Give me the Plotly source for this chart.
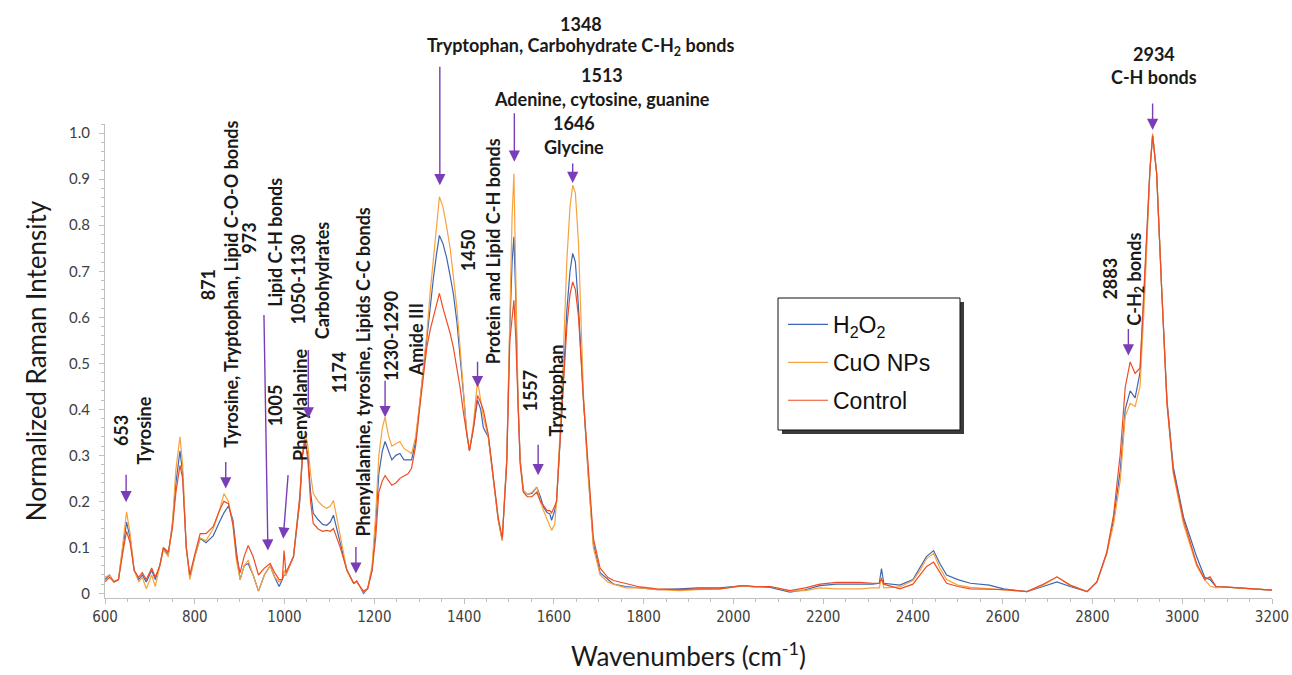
import plotly.graph_objects as go

# ---------------- data ----------------
wavenumber = [600, 610, 620, 630, 640, 648, 656, 665, 675, 683, 692, 704, 712, 722, 730, 741, 750, 758, 767, 773,
              781, 789, 800, 812, 825, 841, 855, 865, 875, 885, 893, 901, 910, 919, 930, 942, 955, 968, 978, 988,
              995, 999, 1003, 1020, 1034, 1040, 1046, 1052, 1058, 1064, 1075, 1085, 1094, 1102, 1109, 1117, 1124,
              1139, 1154, 1161, 1168, 1176, 1185, 1195, 1203, 1210, 1218, 1224, 1231, 1239, 1248, 1257, 1266, 1275,
              1283, 1292, 1302, 1310, 1317, 1325, 1332, 1339, 1345, 1353, 1361, 1369, 1376, 1384, 1391, 1399, 1406,
              1412, 1421, 1430, 1437, 1443, 1454, 1465, 1476, 1485, 1495, 1502, 1507, 1511, 1515, 1520, 1525, 1532,
              1541, 1551, 1562, 1570, 1577, 1585, 1591, 1595, 1602, 1606, 1618, 1629, 1636, 1642, 1648, 1655, 1666,
              1677, 1688, 1703, 1720, 1733, 1760, 1792, 1830, 1880, 1920, 1970, 2022, 2050, 2082, 2126, 2160, 2193,
              2230, 2282, 2310, 2325, 2330, 2335, 2371, 2400, 2416, 2430, 2446, 2460, 2475, 2500, 2528, 2570, 2602,
              2654, 2690, 2721, 2750, 2788, 2810, 2832, 2847, 2862, 2873, 2884, 2895, 2906, 2917, 2928, 2934, 2943,
              2954, 2966, 2980, 3003, 3032, 3050, 3062, 3075, 3091, 3150, 3200]

h2o2 = [0.030, 0.040, 0.025, 0.030, 0.100, 0.155, 0.120, 0.050, 0.030, 0.040, 0.025, 0.050, 0.030, 0.060, 0.098,
        0.085, 0.150, 0.240, 0.310, 0.260, 0.100, 0.035, 0.080, 0.120, 0.110, 0.125, 0.155, 0.175, 0.190, 0.160,
        0.090, 0.030, 0.060, 0.065, 0.040, 0.005, 0.040, 0.060, 0.035, 0.015, 0.030, 0.040, 0.040, 0.080, 0.200,
        0.300, 0.330, 0.300, 0.220, 0.174, 0.160, 0.150, 0.148, 0.155, 0.170, 0.140, 0.110, 0.050, 0.022, 0.025,
        0.015, 0.000, 0.010, 0.050, 0.150, 0.260, 0.310, 0.330, 0.310, 0.290, 0.300, 0.304, 0.290, 0.290, 0.290,
        0.330, 0.420, 0.500, 0.555, 0.630, 0.688, 0.740, 0.778, 0.760, 0.730, 0.690, 0.652, 0.590, 0.520, 0.430,
        0.347, 0.310, 0.360, 0.420, 0.400, 0.360, 0.340, 0.245, 0.160, 0.115, 0.290, 0.580, 0.720, 0.775, 0.650,
        0.420, 0.290, 0.224, 0.215, 0.217, 0.231, 0.210, 0.188, 0.175, 0.173, 0.159, 0.180, 0.200, 0.400, 0.615,
        0.700, 0.739, 0.720, 0.620, 0.420, 0.253, 0.108, 0.045, 0.030, 0.020, 0.015, 0.012, 0.008, 0.010, 0.012,
        0.012, 0.017, 0.014, 0.013, 0.003, 0.008, 0.017, 0.020, 0.020, 0.020, 0.022, 0.054, 0.022, 0.018, 0.030,
        0.057, 0.080, 0.093, 0.065, 0.040, 0.030, 0.022, 0.018, 0.010, 0.004, 0.015, 0.025, 0.015, 0.004, 0.025,
        0.087, 0.160, 0.268, 0.400, 0.440, 0.425, 0.480, 0.690, 0.920, 0.995, 0.913, 0.666, 0.420, 0.275, 0.165,
        0.080, 0.035, 0.030, 0.015, 0.014, 0.010, 0.007]

cuo_nps = [0.035, 0.040, 0.025, 0.030, 0.110, 0.177, 0.130, 0.050, 0.025, 0.035, 0.010, 0.040, 0.015, 0.060, 0.095,
           0.080, 0.150, 0.270, 0.340, 0.280, 0.100, 0.030, 0.080, 0.120, 0.115, 0.140, 0.180, 0.217, 0.200, 0.150,
           0.070, 0.030, 0.060, 0.072, 0.040, 0.005, 0.040, 0.060, 0.035, 0.025, 0.030, 0.050, 0.040, 0.080, 0.210,
           0.310, 0.350, 0.320, 0.260, 0.217, 0.200, 0.190, 0.185, 0.190, 0.202, 0.160, 0.122, 0.050, 0.022, 0.025,
           0.015, 0.003, 0.010, 0.060, 0.170, 0.300, 0.360, 0.383, 0.345, 0.320, 0.325, 0.330, 0.315, 0.310, 0.304,
           0.340, 0.420, 0.500, 0.565, 0.660, 0.724, 0.800, 0.862, 0.840, 0.797, 0.750, 0.690, 0.620, 0.535, 0.440,
           0.350, 0.310, 0.370, 0.463, 0.420, 0.383, 0.340, 0.245, 0.160, 0.115, 0.290, 0.600, 0.820, 0.912, 0.700,
           0.430, 0.290, 0.224, 0.215, 0.220, 0.231, 0.200, 0.180, 0.160, 0.144, 0.137, 0.150, 0.200, 0.435, 0.724,
           0.840, 0.887, 0.870, 0.760, 0.430, 0.250, 0.100, 0.040, 0.025, 0.020, 0.012, 0.012, 0.008, 0.006, 0.008,
           0.010, 0.017, 0.013, 0.015, 0.005, 0.006, 0.012, 0.010, 0.010, 0.012, 0.012, 0.035, 0.012, 0.014, 0.028,
           0.050, 0.075, 0.087, 0.055, 0.030, 0.018, 0.013, 0.010, 0.008, 0.004, 0.018, 0.036, 0.018, 0.004, 0.025,
           0.087, 0.150, 0.246, 0.385, 0.413, 0.406, 0.450, 0.660, 0.920, 1.000, 0.913, 0.666, 0.413, 0.260, 0.150,
           0.060, 0.030, 0.016, 0.012, 0.014, 0.010, 0.007]

control = [0.025, 0.035, 0.025, 0.030, 0.090, 0.135, 0.110, 0.050, 0.035, 0.045, 0.030, 0.055, 0.035, 0.060, 0.100,
           0.090, 0.140, 0.220, 0.278, 0.250, 0.100, 0.040, 0.085, 0.130, 0.130, 0.145, 0.180, 0.200, 0.195, 0.150,
           0.080, 0.045, 0.080, 0.104, 0.080, 0.040, 0.055, 0.065, 0.045, 0.030, 0.030, 0.093, 0.045, 0.080, 0.210,
           0.300, 0.335, 0.290, 0.200, 0.152, 0.140, 0.135, 0.137, 0.135, 0.141, 0.120, 0.100, 0.050, 0.022, 0.027,
           0.015, 0.005, 0.010, 0.050, 0.120, 0.220, 0.245, 0.256, 0.245, 0.235, 0.240, 0.250, 0.255, 0.260, 0.272,
           0.320, 0.410, 0.480, 0.535, 0.575, 0.600, 0.630, 0.652, 0.620, 0.593, 0.565, 0.535, 0.490, 0.448, 0.390,
           0.345, 0.310, 0.360, 0.430, 0.415, 0.398, 0.345, 0.250, 0.165, 0.120, 0.280, 0.550, 0.600, 0.637, 0.560,
           0.400, 0.280, 0.220, 0.210, 0.210, 0.220, 0.200, 0.190, 0.180, 0.180, 0.175, 0.190, 0.200, 0.400, 0.580,
           0.650, 0.677, 0.660, 0.600, 0.420, 0.260, 0.120, 0.055, 0.035, 0.028, 0.022, 0.014, 0.010, 0.008, 0.010,
           0.010, 0.017, 0.015, 0.015, 0.006, 0.012, 0.020, 0.024, 0.024, 0.022, 0.022, 0.032, 0.020, 0.010, 0.020,
           0.040, 0.058, 0.068, 0.045, 0.022, 0.015, 0.010, 0.009, 0.008, 0.004, 0.020, 0.036, 0.018, 0.004, 0.025,
           0.090, 0.170, 0.304, 0.448, 0.503, 0.478, 0.490, 0.702, 0.920, 0.995, 0.913, 0.666, 0.413, 0.267, 0.159,
           0.065, 0.030, 0.036, 0.015, 0.014, 0.010, 0.007]

series_names = ["H<sub>2</sub>O<sub>2</sub>", "CuO NPs", "Control"]
series_colors = ["#3F66B0", "#F8A23E", "#EE4C22"]

x_tick_values = [600, 800, 1000, 1200, 1400, 1600, 1800, 2000, 2200, 2400, 2600, 2800, 3000, 3200]
y_tick_values = [0, 0.1, 0.2, 0.3, 0.4, 0.5, 0.6, 0.7, 0.8, 0.9, 1.0]
y_tick_labels = ["0", "0.1", "0.2", "0.3", "0.4", "0.5", "0.6", "0.7", "0.8", "0.9", "1.0"]

# peak labels: (wavenumber, intensity level of label centre, text, rotated?)
peak_labels = [
    (1660, 1.238, "1348", False),
    (1660, 1.188, "Tryptophan, Carbohydrate C-H<sub>2</sub> bonds", False),
    (1707, 1.126, "1513", False),
    (1707, 1.074, "Adenine, cytosine, guanine", False),
    (1646, 1.022, "1646", False),
    (1646, 0.970, "Glycine", False),
    (2936, 1.173, "2934", False),
    (2936, 1.122, "C-H bonds", False),
    (637, 0.354, "653", True),
    (689, 0.354, "Tyrosine", True),
    (830, 0.670, "871", True),
    (880, 0.672, "Tyrosine, Tryptophan, Lipid C-O-O bonds", True),
    (921, 0.771, "973", True),
    (979, 0.762, "Lipid C-H bonds", True),
    (979, 0.409, "1005", True),
    (1031, 0.683, "1050-1130", True),
    (1085, 0.680, "Carbohydrates", True),
    (1034, 0.409, "Phenylalanine", True),
    (1122, 0.481, "1174", True),
    (1176, 0.481, "Phenylalanine, tyrosine, Lipids C-C bonds", True),
    (1237, 0.559, "1230-1290", True),
    (1293, 0.550, "Amide III", True),
    (1409, 0.746, "1450", True),
    (1465, 0.744, "Protein and Lipid C-H bonds", True),
    (1547, 0.441, "1557", True),
    (1605, 0.441, "Tryptophan", True),
    (2839, 0.684, "2883", True),
    (2895, 0.682, "C-H<sub>2</sub> bonds", True),
]

# arrows: (tip wavenumber, tip intensity, tail dx px, tail dy px)
peak_arrows = [
    (647, 0.198, 0, -29), (869, 0.228, 0, -28), (963, 0.093, -4, -237), (997, 0.119, 5, -65),
    (1053, 0.380, 0, -70), (1159, 0.043, 0, -28), (1224, 0.383, 0, -38), (1346, 0.887, 0, -120),
    (1430, 0.448, 0, -27), (1512, 0.938, 0, -50), (1565, 0.257, 0, -32), (1642, 0.892, 0, -21),
    (2880, 0.517, 0, -28), (2934, 1.007, 0, -28),
]

Y_MIN, Y_MAX = -0.01, 1.02

def to_paper_y(v):
    return (v - Y_MIN) / (Y_MAX - Y_MIN)

# ---------------- figure ----------------
fig = go.Figure()
for name, vals, col in zip(series_names, [h2o2, cuo_nps, control], series_colors):
    fig.add_trace(go.Scatter(x=wavenumber, y=vals, mode="lines", name=name, legendgroup=name,
                             line=dict(color=col, width=1.2)))

LABEL_FONT = dict(family="Lato, 'Open Sans', sans-serif", size=18, color="#1a1a1a")
annotations = []
for wx, wy, txt, rot in peak_labels:
    annotations.append(dict(x=wx, y=to_paper_y(wy), xref="x", yref="paper", text="<b>" + txt + "</b>",
                            showarrow=False, textangle=-90 if rot else 0, font=LABEL_FONT,
                            xanchor="center", yanchor="middle"))
for wx, wy, dx, dy in peak_arrows:
    annotations.append(dict(x=wx, y=to_paper_y(wy), xref="x", yref="paper", text="", showarrow=True,
                            ax=dx, ay=dy, arrowhead=2, arrowsize=1.6, arrowwidth=1.4, arrowcolor="#7A3DB8",
                            standoff=0))

# plot area geometry (pixels)
L, R, T, B = 105, 20, 124, 77
W, H = 1292, 675
pw, ph = W - L - R, H - T - B

def px(xp):
    return (xp - L) / pw

def py(yp):
    return (H - B - yp) / ph

shapes = [
    dict(type="rect", xref="paper", yref="paper", x0=px(782), x1=px(964), y0=py(434), y1=py(302),
         fillcolor="#3a3a3a", line=dict(width=0), layer="below"),
    dict(type="rect", xref="paper", yref="paper", x0=px(778), x1=px(960), y0=py(430), y1=py(298),
         fillcolor="white", line=dict(color="#111111", width=1), layer="below"),
]

fig.update_layout(
    width=W, height=H,
    margin=dict(l=L, r=R, t=T, b=B, autoexpand=False),
    paper_bgcolor="white", plot_bgcolor="white",
    showlegend=True,
    legend=dict(x=px(783), y=py(303), xanchor="left", yanchor="top", bgcolor="rgba(0,0,0,0)",
                borderwidth=0, font=dict(family="'Liberation Sans', Arial, sans-serif", size=23, color="#111111"),
                tracegroupgap=5, itemwidth=40),
    annotations=annotations,
    shapes=shapes,
    xaxis=dict(range=[600, 3200], tickvals=x_tick_values, showgrid=False, zeroline=False,
               showline=True, linecolor="#BFBFBF", linewidth=1, ticks="outside", ticklen=5, tickcolor="#BFBFBF",
               minor=dict(dtick=50, ticks="outside", ticklen=3, tickcolor="#BFBFBF"),
               tickfont=dict(family="'Liberation Sans Narrow', 'DejaVu Sans Condensed', sans-serif", size=15,
                             color="#404040"),
               title=dict(text="Wavenumbers (cm<sup>-1</sup>)", standoff=22,
                          font=dict(family="Lato, sans-serif", size=26, color="#1a1a1a"))),
    yaxis=dict(range=[Y_MIN, Y_MAX], tickvals=y_tick_values, ticktext=y_tick_labels, showgrid=False,
               zeroline=False, showline=True, linecolor="#BFBFBF", linewidth=1, ticks="outside", ticklen=5,
               tickcolor="#BFBFBF", minor=dict(dtick=0.02, ticks="outside", ticklen=3, tickcolor="#BFBFBF"),
               ticklabelstandoff=6,
               tickfont=dict(family="Lato, sans-serif", size=15, color="#404040"),
               title=dict(text="Normalized Raman Intensity", standoff=14,
                          font=dict(family="Lato, sans-serif", size=26, color="#1a1a1a"))),
)

fig.write_html("out.html")
